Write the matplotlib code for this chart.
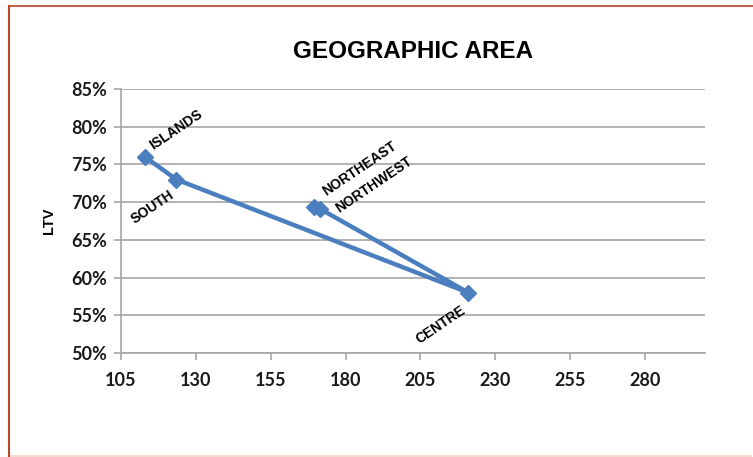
import matplotlib.pyplot as plt
from matplotlib.patches import Rectangle
from matplotlib.lines import Line2D
from matplotlib.ticker import PercentFormatter

# === Data ===
regions = ["ISLANDS", "SOUTH", "CENTRE", "NORTHWEST", "NORTHEAST"]
x_vals = [113.0, 123.5, 221.0, 171.5, 169.3]
ltv = [76.0, 73.0, 58.0, 69.1, 69.4]
x_ticks = [105, 130, 155, 180, 205, 230, 255, 280]
y_ticks = [50, 55, 60, 65, 70, 75, 80, 85]

# label offsets in points (dx, dy) and alignment
label_pos = {
    "ISLANDS": (7, 3, "left"),
    "SOUTH": (0, -14, "right"),
    "CENTRE": (0, -16, "right"),
    "NORTHWEST": (15, -5, "left"),
    "NORTHEAST": (10, 6, "left"),
}

BLUE = "#4a7ebf"
GRID = "#a6a6a6"

fig = plt.figure(figsize=(7.53, 4.57), dpi=100)
ax = fig.add_axes([121 / 753, 1 - 353 / 457, (705 - 121) / 753, (353 - 89) / 457])

ax.plot(x_vals, ltv, color=BLUE, linewidth=3.2, marker="D", markersize=8,
        markerfacecolor=BLUE, markeredgecolor=BLUE, solid_joinstyle="round", zorder=3)

for name, x, y in zip(regions, x_vals, ltv):
    dx, dy, ha = label_pos[name]
    ax.annotate(name, (x, y), xytext=(dx, dy), textcoords="offset points",
                rotation=34, rotation_mode="anchor", ha=ha, va="bottom",
                fontsize=10, fontweight="bold", family="Liberation Sans", zorder=4)

ax.set_xlim(105, 300)
ax.set_ylim(50, 85)
ax.set_xticks(x_ticks)
ax.set_yticks(y_ticks)
ax.yaxis.set_major_formatter(PercentFormatter(decimals=0))
ax.grid(axis="y", color=GRID, linewidth=1.2)
ax.set_axisbelow(True)

for side in ["top", "right"]:
    ax.spines[side].set_visible(False)
for side in ["left", "bottom"]:
    ax.spines[side].set_color(GRID)
    ax.spines[side].set_linewidth(1.2)

ax.tick_params(axis="both", colors=GRID, length=5, width=1.2, labelcolor="#1a1a1a")
ax.tick_params(axis="x", pad=9)
ax.tick_params(axis="y", pad=5)
for lbl in ax.get_xticklabels() + ax.get_yticklabels():
    lbl.set_fontfamily("Lato")
    lbl.set_fontweight("bold")
    lbl.set_fontsize(13)

ax.set_ylabel("LTV", fontsize=10.5, fontweight="bold", family="Liberation Sans", labelpad=11)
fig.text(413 / 753, 1 - 52 / 457, "GEOGRAPHIC AREA", ha="center", va="center",
         fontsize=17.5, fontweight="bold", family="Liberation Sans")

# frame lines around the chart area
fig.add_artist(Line2D([8.5 / 753, 1], [1 - 5.5 / 457] * 2, color="#c0634b", linewidth=1.5))
fig.add_artist(Line2D([8.5 / 753] * 2, [0, 1 - 5.5 / 457], color="#b9472e", linewidth=1.5))
fig.add_artist(Rectangle((9 / 753, 0), (752 - 9) / 753, 2.5 / 457,
                         transform=fig.transFigure, color="#f5dcd2", linewidth=0))

fig.savefig("out.png", dpi=100)
